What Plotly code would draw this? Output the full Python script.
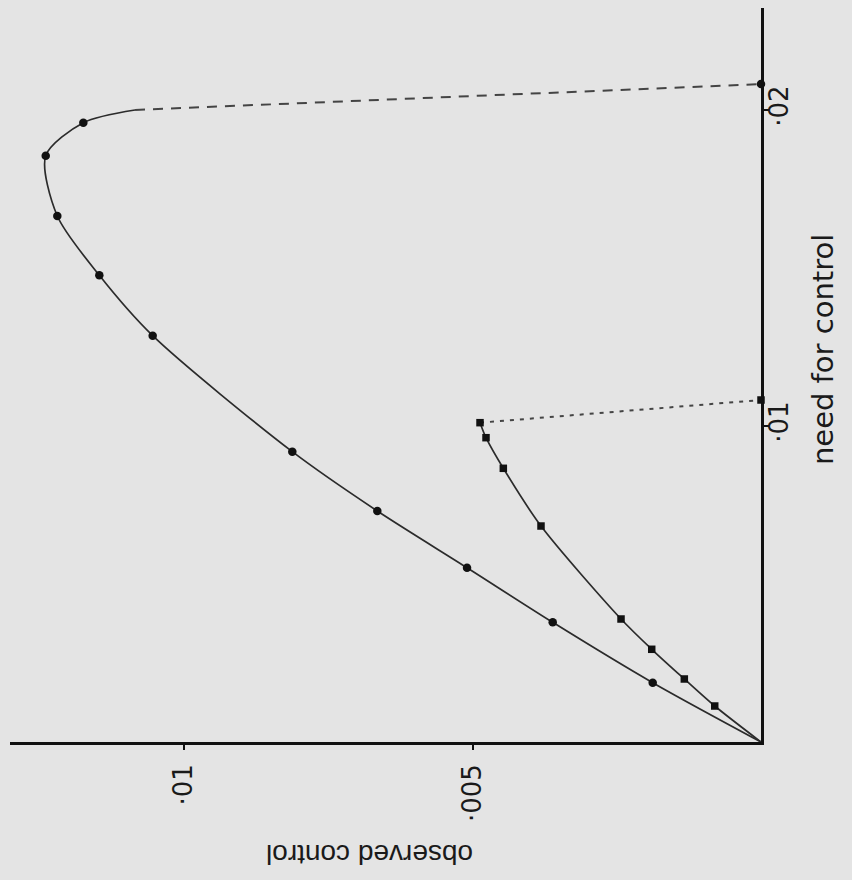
import plotly.graph_objects as go

# ---- data (observed control, need for control) ----
# circle series (solid curve), from the origin outward
circ_obs = [0.001877, 0.003610, 0.005095, 0.006650, 0.008123, 0.010543,
            0.011468, 0.012196, 0.012397, 0.011745]
circ_need = [0.001877, 0.003788, 0.005516, 0.007310, 0.009187, 0.012858,
             0.014769, 0.016646, 0.018554, 0.019598]
circ_end = (0.010849, 0.0200)        # where the solid curve stops
circ_axis_need = 0.02082             # dashed drop to the need axis

# square series
sq_obs = [0.000802, 0.001329, 0.001894, 0.002426, 0.003813, 0.004466,
          0.004766, 0.004870]
sq_need = [0.001139, 0.001994, 0.002934, 0.003892, 0.006835, 0.008661,
           0.009630, 0.010105]
sq_axis_need = 0.010823              # dotted drop to the need axis

obs_ticks = [0.005, 0.01]
obs_ticktext = ["·005", "·01"]
need_ticks = [0.01, 0.02]
need_ticktext = ["·01", "·02"]

obs_max = 0.013016
need_max = 0.023228

INK = "#2b2b2b"
BG = "#e4e4e4"

fig = go.Figure()

# solid curves (start at origin)
fig.add_trace(go.Scatter(
    x=[0] + circ_obs + [circ_end[0]], y=[0] + circ_need + [circ_end[1]],
    mode="lines", line=dict(color=INK, width=1.7, shape="spline", smoothing=0.8),
    hoverinfo="skip"))
fig.add_trace(go.Scatter(
    x=[0] + sq_obs, y=[0] + sq_need,
    mode="lines", line=dict(color=INK, width=1.7, shape="spline", smoothing=0.8),
    hoverinfo="skip"))

# dashed / dotted drops
fig.add_trace(go.Scatter(
    x=[circ_end[0], 0], y=[circ_end[1], circ_axis_need],
    mode="lines", line=dict(color="#444444", width=2, dash="10px,8px"),
    hoverinfo="skip"))
fig.add_trace(go.Scatter(
    x=[sq_obs[-1], 0], y=[sq_need[-1], sq_axis_need],
    mode="lines", line=dict(color="#444444", width=2, dash="4px,6px"),
    hoverinfo="skip"))

# markers
fig.add_trace(go.Scatter(
    x=circ_obs + [0], y=circ_need + [circ_axis_need], mode="markers",
    marker=dict(symbol="circle", size=8.5, color="#111111"), cliponaxis=False))
fig.add_trace(go.Scatter(
    x=sq_obs + [0], y=sq_need + [sq_axis_need], mode="markers",
    marker=dict(symbol="square", size=7.5, color="#111111"), cliponaxis=False))

axis_common = dict(
    showgrid=False, zeroline=False, showline=True, linecolor="#111111",
    linewidth=2.5, ticks="outside", ticklen=5, tickwidth=2, tickcolor="#111111",
    tickangle=-90, tickfont=dict(family="DejaVu Sans", size=26, color="#1a1a1a"),
    automargin=False,
)

fig.update_layout(
    width=852, height=880,
    margin=dict(l=10, r=91, t=8, b=138, pad=0),
    paper_bgcolor=BG, plot_bgcolor=BG,
    showlegend=False,
    xaxis=dict(range=[obs_max, 0], tickvals=obs_ticks, ticktext=obs_ticktext,
               ticklabelstandoff=4, **axis_common),
    yaxis=dict(range=[0, need_max], side="right", tickvals=need_ticks,
               ticktext=need_ticktext, ticklabelstandoff=-12, **axis_common),
    annotations=[
        dict(text="need for control", xref="paper", yref="paper",
             x=1.0826, y=0.534, xanchor="center", yanchor="middle",
             showarrow=False, textangle=-90,
             font=dict(family="DejaVu Sans", size=29, color="#1a1a1a")),
        dict(text="observed control", xref="paper", yref="paper",
             x=0.4794, y=-0.154, xanchor="center", yanchor="middle",
             showarrow=False, textangle=180,
             font=dict(family="Liberation Sans", size=28, color="#1a1a1a")),
    ],
)

fig.write_html(
    "out.html",
    config={"displayModeBar": False},
    post_script="document.body.style.margin='0';"
                "document.body.style.background='" + BG + "';",
)
